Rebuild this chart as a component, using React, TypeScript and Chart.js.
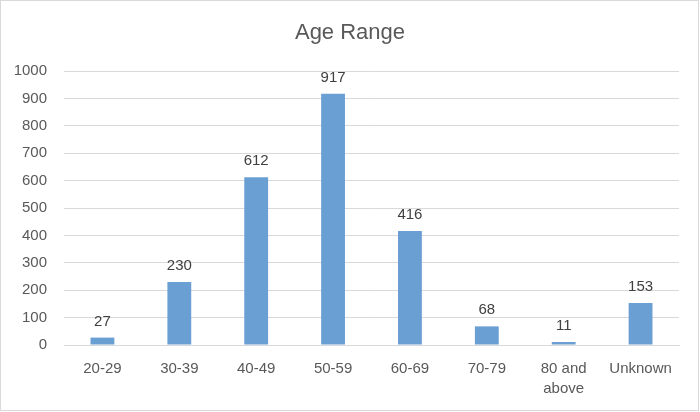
import React, { useEffect, useRef } from "react";
import { Chart, registerables } from "chart.js";

Chart.register(...registerables);

const categories: (string | string[])[] = ["20-29", "30-39", "40-49", "50-59", "60-69", "70-79", ["80 and", "above"], "Unknown"];
const values: number[] = [27, 230, 612, 917, 416, 68, 11, 153];
const titleText = "Age Range";
const yMin = 0;
const yMax = 1000;
const yStep = 100;

const FONT = "'Liberation Sans', Arial, sans-serif";

const frameAndLabels = {
  id: "frameAndLabels",
  beforeDraw(chart: any) {
    const ctx = chart.ctx;
    ctx.save();
    ctx.fillStyle = "#ffffff";
    ctx.fillRect(0, 0, chart.width, chart.height);
    ctx.strokeStyle = "#d9d9d9";
    ctx.lineWidth = 1;
    ctx.strokeRect(0.5, 0.5, chart.width - 2, chart.height - 2);
    ctx.fillStyle = "#595959";
    ctx.font = `22px ${FONT}`;
    ctx.textAlign = "center";
    ctx.textBaseline = "middle";
    ctx.fillText(titleText, chart.width / 2, 33);
    ctx.restore();
  },
  afterDatasetsDraw(chart: any) {
    const ctx = chart.ctx;
    const meta = chart.getDatasetMeta(0);
    ctx.save();
    ctx.fillStyle = "#404040";
    ctx.font = `15px ${FONT}`;
    ctx.textAlign = "center";
    ctx.textBaseline = "alphabetic";
    meta.data.forEach((el: any, i: number) => {
      ctx.fillText(String(values[i]), el.x, el.y - 12);
    });
    ctx.restore();
  },
};

export default function App() {
  const ref = useRef<HTMLCanvasElement>(null);
  useEffect(() => {
    document.body.style.margin = "0";
    const chart = new Chart(ref.current!, {
      type: "bar",
      data: {
        labels: categories,
        datasets: [
          {
            data: values,
            backgroundColor: "#6A9FD3",
            borderWidth: 0,
            categoryPercentage: 1,
            barPercentage: 0.31,
          },
        ],
      },
      options: {
        responsive: false,
        animation: false,
        layout: { padding: { top: 71, right: 21, bottom: 0, left: 0 } },
        plugins: {
          legend: { display: false },
          title: { display: false },
          tooltip: { enabled: false },
        },
        scales: {
          x: {
            grid: { display: false, drawTicks: false },
            border: { display: true, color: "#d9d9d9" },
            ticks: { color: "#595959", font: { family: FONT, size: 15, lineHeight: 1.33 }, padding: 14, maxRotation: 0, autoSkip: false },
            afterFit(scale: any) {
              scale.height = 67;
            },
          },
          y: {
            min: yMin,
            max: yMax,
            grid: { color: "#d9d9d9", drawTicks: false },
            border: { display: false },
            ticks: {
              stepSize: yStep,
              color: "#595959",
              font: { family: FONT, size: 15 },
              padding: 17,
              callback: (v: any) => String(v),
            },
            afterFit(scale: any) {
              scale.width = 64;
            },
          },
        },
      },
      plugins: [frameAndLabels],
    });
    return () => chart.destroy();
  }, []);
  return <canvas ref={ref} width={700} height={412} style={{ display: "block" }} />;
}
